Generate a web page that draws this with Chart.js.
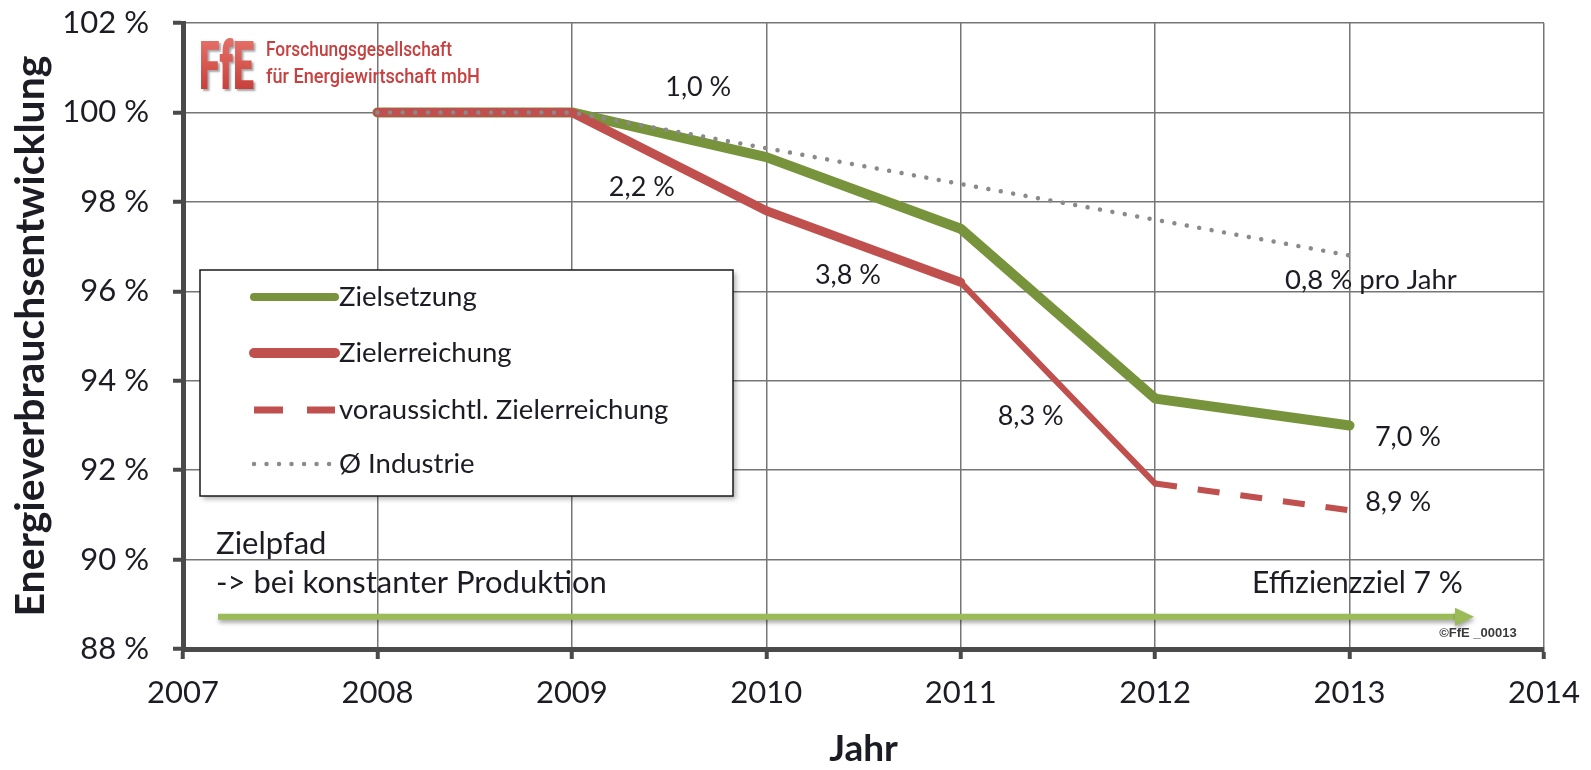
<!DOCTYPE html>
<html><head><meta charset="utf-8">
<script src="https://cdn.jsdelivr.net/npm/chart.js@4.4.1/dist/chart.umd.min.js"></script>
<style>html,body{margin:0;padding:0;background:#fff;}#wrap{width:1591px;height:770px;}</style>
</head><body><div id="wrap"><canvas id="c" width="1591" height="770"></canvas></div>
<script>
// ---- data ----
const years = [2008, 2009, 2010, 2011, 2012, 2013];
const zielsetzung = [100, 100, 99.0, 97.4, 93.6, 93.0];
const zielerreichung = [100, 100, 97.8, 96.2, 91.7, null];
const voraussichtlich = [null, null, null, null, 91.7, 91.1];
const industrie = [100, 100, 99.2, 98.4, 97.6, 96.8];
const seriesLabels = ['Zielsetzung', 'Zielerreichung', 'voraussichtl. Zielerreichung', 'Ø Industrie'];
const xTicks = [2007, 2008, 2009, 2010, 2011, 2012, 2013, 2014];
const yTicks = [88, 90, 92, 94, 96, 98, 100, 102];
const xTickLabels = ['2007', '2008', '2009', '2010', '2011', '2012', '2013', '2014'];
const yTickLabels = ['88 %', '90 %', '92 %', '94 %', '96 %', '98 %', '100 %', '102 %'];
const axisTitleY = 'Energieverbrauchsentwicklung';
const axisTitleX = 'Jahr';
const noteTexts = ['1,0 %', '2,2 %', '3,8 %', '8,3 %', '0,8 % pro Jahr', '7,0 %', '8,9 %',
  'Zielpfad', '-> bei konstanter Produktion', 'Effizienzziel 7 %', '©FfE _00013'];
const noteYears = [2009.65, 2009.36, 2010.42, 2011.36, 2013.11, 2013.30, 2013.25, 2007.17, 2007.17, 2013.04, 2013.66];
const noteValues = [100.57, 98.32, 96.35, 93.20, 96.24, 92.74, 91.27, 90.34, 89.47, 89.47, 88.34];
const arrowFrom = [2007.18, 88.72];
const arrowTo = [2013.64, 88.72];
const logoTexts = ['FfE', 'Forschungsgesellschaft', 'für Energiewirtschaft mbH'];

// ---- styles ----
const FONT = 'Lato';
const pts = arr => years.map((x, i) => ({x: x, y: arr[i]}));
const GREEN = '#77933C', RED = '#C0504D', GRAY = '#8a8a8a', ARROW = '#9BBB59', TXT = '#1c1c24';
const noteSizes = [27, 27, 27, 27, 27.5, 27, 27, 31, 31, 30, 13];

const notesPlugin = {
  id: 'notes',
  afterDatasetsDraw(chart) {
    const {ctx, scales: {x, y}} = chart;
    ctx.save();
    // arrow
    const x0 = x.getPixelForValue(arrowFrom[0]), y0 = y.getPixelForValue(arrowFrom[1]);
    const x1 = x.getPixelForValue(arrowTo[0]), y1 = y.getPixelForValue(arrowTo[1]);
    ctx.shadowColor = 'rgba(0,0,0,0.35)'; ctx.shadowBlur = 4; ctx.shadowOffsetY = 3; ctx.shadowOffsetX = 1;
    ctx.strokeStyle = ARROW; ctx.fillStyle = ARROW; ctx.lineWidth = 6;
    ctx.beginPath(); ctx.moveTo(x0, y0); ctx.lineTo(x1 - 16, y1); ctx.stroke();
    ctx.beginPath(); ctx.moveTo(x1, y1); ctx.lineTo(x1 - 19, y1 - 9); ctx.lineTo(x1 - 19, y1 + 9); ctx.closePath(); ctx.fill();
    ctx.shadowColor = 'transparent'; ctx.shadowBlur = 0; ctx.shadowOffsetY = 0; ctx.shadowOffsetX = 0;
    // texts
    ctx.textBaseline = 'middle';
    noteTexts.forEach((t, i) => {
      const px = x.getPixelForValue(noteYears[i]), py = y.getPixelForValue(noteValues[i]);
      if (i === 10) { ctx.font = 'bold 13px "Liberation Sans"'; ctx.fillStyle = '#3a3a3a'; }
      else { ctx.font = noteSizes[i] + 'px ' + FONT; ctx.fillStyle = TXT; }
      ctx.textAlign = (i === 7 || i === 8) ? 'left' : 'center';
      ctx.fillText(t, px, py);
    });
    // logo
    ctx.save();
    ctx.shadowColor = 'rgba(0,0,0,0.35)'; ctx.shadowBlur = 2; ctx.shadowOffsetX = 2; ctx.shadowOffsetY = 2;
    const g = ctx.createLinearGradient(0, 41, 0, 89);
    g.addColorStop(0, '#E46E66'); g.addColorStop(1, '#C8403B');
    ctx.fillStyle = g; ctx.textAlign = 'left'; ctx.textBaseline = 'alphabetic';
    ctx.font = '900 66px Roboto';
    ctx.fillText(logoTexts[0], 199, 89, 55);
    ctx.restore();
    ctx.fillStyle = '#C8403F'; ctx.textAlign = 'left'; ctx.textBaseline = 'middle';
    ctx.font = '500 21px Roboto';
    [[logoTexts[1], 51, 186], [logoTexts[2], 78, 214]].forEach(([t, yy, w]) => {
      const m = ctx.measureText(t).width;
      ctx.save(); ctx.translate(266, yy); ctx.scale(w / m, 1); ctx.fillText(t, 0, 0); ctx.restore();
    });
    ctx.restore();
  }
};

const legendPlugin = {
  id: 'boxLegend',
  afterDraw(chart) {
    const {ctx} = chart;
    const L = 200, T = 270, W = 533, H = 226;
    ctx.save();
    ctx.shadowColor = 'rgba(0,0,0,0.3)'; ctx.shadowBlur = 5; ctx.shadowOffsetX = 3; ctx.shadowOffsetY = 3;
    ctx.fillStyle = '#fff'; ctx.fillRect(L, T, W, H);
    ctx.shadowColor = 'transparent';
    ctx.strokeStyle = '#1a1a1a'; ctx.lineWidth = 1.5; ctx.strokeRect(L, T, W, H);
    const rows = [297, 353, 410, 464];
    const order = [3, 2, 1, 0]; // dataset indices in legend order
    order.forEach((di, r) => {
      const ds = chart.data.datasets[di];
      const yy = rows[r];
      ctx.save();
      ctx.strokeStyle = ds.borderColor;
      ctx.lineWidth = ds.legendWidth;
      ctx.lineCap = ds.borderCapStyle || 'butt';
      ctx.setLineDash(ds.legendDash || []);
      ctx.beginPath(); ctx.moveTo(254, yy); ctx.lineTo(335, yy); ctx.stroke();
      ctx.restore();
      ctx.fillStyle = TXT; ctx.font = '27.5px ' + FONT; ctx.textAlign = 'left'; ctx.textBaseline = 'middle';
      ctx.fillText(ds.label, 339, yy);
    });
    ctx.restore();
  }
};

new Chart(document.getElementById('c'), {
  type: 'line',
  data: {
    datasets: [
      {label: seriesLabels[3], data: pts(industrie), borderColor: GRAY, borderWidth: 4.5, borderDash: [0.01, 12.6],
        borderCapStyle: 'round', order: 1, legendWidth: 4.5, legendDash: [0.01, 12.5]},
      {label: seriesLabels[2], data: pts(voraussichtlich), borderColor: RED, borderWidth: 6, borderDash: [22, 21],
        order: 2, legendWidth: 7, legendDash: [29, 24]},
      {label: seriesLabels[1], data: pts(zielerreichung), borderColor: RED, borderWidth: 9, borderCapStyle: 'round',
        borderJoinStyle: 'round', order: 3, legendWidth: 10,
        segment: {borderWidth: c => c.p0DataIndex >= 3 ? 6 : 9}},
      {label: seriesLabels[0], data: pts(zielsetzung), borderColor: GREEN, borderWidth: 10, borderCapStyle: 'round',
        borderJoinStyle: 'round', order: 4, legendWidth: 8}
    ]
  },
  options: {
    responsive: false, animation: false, devicePixelRatio: 1,
    elements: {point: {radius: 0, hoverRadius: 0}, line: {tension: 0}},
    layout: {padding: {left: 0, right: 47, top: 23, bottom: 0}},
    plugins: {legend: {display: false}, tooltip: {enabled: false}},
    scales: {
      x: {
        type: 'linear', min: 2007, max: 2014,
        afterBuildTicks: s => { s.ticks = xTicks.map(v => ({value: v})); },
        afterFit: s => { s.height = 121; s.paddingLeft = 0; s.paddingRight = 0; },
        ticks: {callback: (v) => xTickLabels[xTicks.indexOf(v)], font: {family: FONT, size: 31}, color: TXT, padding: 15, maxRotation: 0},
        grid: {color: '#767676', lineWidth: 1.5, tickLength: 10, tickWidth: 4, tickColor: '#4a4a4a'},
        border: {color: '#4a4a4a', width: 5},
        title: {display: true, text: axisTitleX, font: {family: FONT, size: 37, weight: 'bold', lineHeight: 1}, color: TXT, padding: {top: 0, bottom: 2}}
      },
      y: {
        min: 88, max: 102,
        afterBuildTicks: s => { s.ticks = yTicks.map(v => ({value: v})); },
        afterFit: s => { s.width = 183; s.paddingTop = 0; s.paddingBottom = 0; },
        ticks: {callback: (v) => yTickLabels[yTicks.indexOf(v)], font: {family: FONT, size: 31}, color: TXT, padding: 24},
        grid: {color: '#767676', lineWidth: 1.5, tickLength: 10, tickWidth: 4, tickColor: '#4a4a4a'},
        border: {color: '#4a4a4a', width: 5},
        title: {display: true, text: axisTitleY, font: {family: FONT, size: 41, weight: 'bold', lineHeight: 1}, color: TXT, padding: {top: 10, bottom: 0}}
      }
    }
  },
  plugins: [notesPlugin, legendPlugin]
});
</script>
</body></html>
